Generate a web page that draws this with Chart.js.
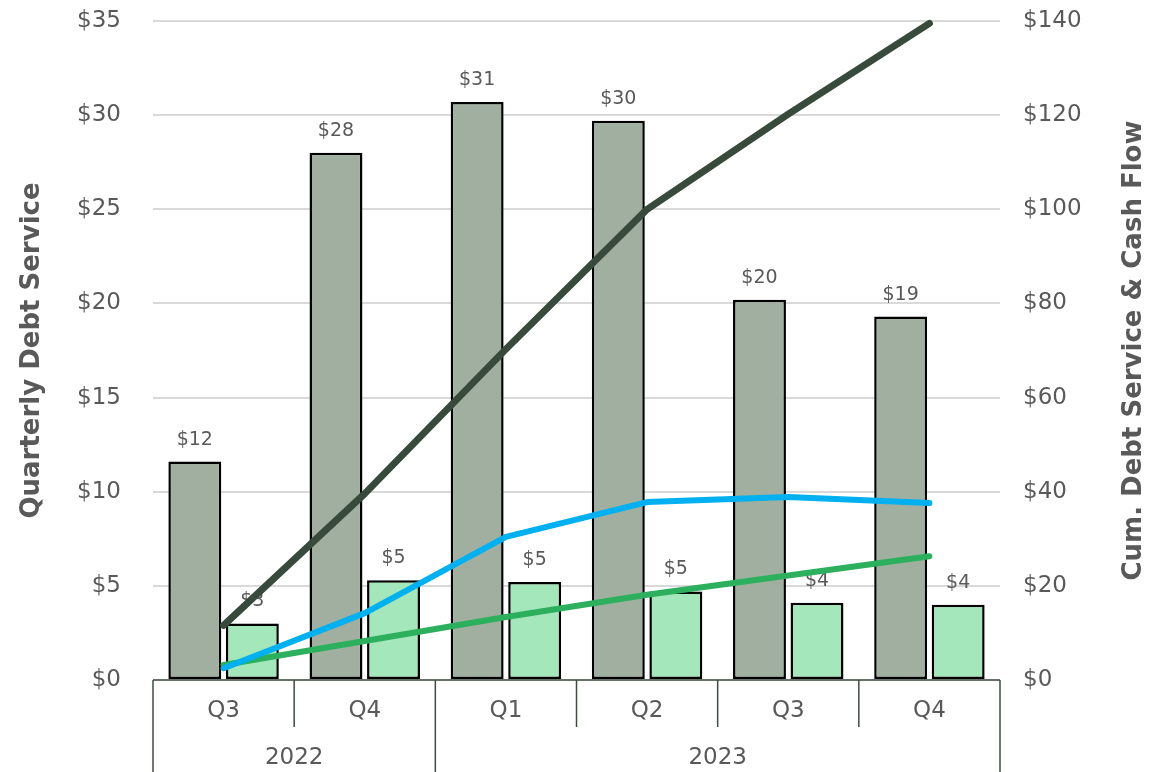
<!DOCTYPE html>
<html>
<head>
<meta charset="utf-8">
<script src="https://cdn.jsdelivr.net/npm/chart.js@4/dist/chart.umd.min.js"></script>
<style>
  html, body { margin: 0; padding: 0; background: #fff; }
  #wrap { width: 1176px; height: 772px; }
</style>
</head>
<body>
<div id="wrap"><canvas id="myChart"></canvas></div>
<script>
// values ($)
const quarters = ['Q3', 'Q4', 'Q1', 'Q2', 'Q3', 'Q4'];
const years = ['2022', '2022', '2023', '2023', '2023', '2023'];
const quarterlyDebtService = [11.6, 28.0, 30.7, 29.7, 20.2, 19.3];
const quarterlyCashFlow = [3.0, 5.3, 5.2, 4.7, 4.1, 4.0];
const cumDebtService = [11.6, 39.6, 70.3, 100.0, 120.2, 139.5];
const cumCashFlow = [2.5, 14.2, 30.4, 37.8, 38.9, 37.6];
const cumCashFlowLow = [3.2, 8.3, 13.4, 18.1, 22.2, 26.3];
const leftTicks = { max: 35, step: 5 };
const rightTicks = { max: 140, step: 20 };

const textColor = '#595959';
const fontFamily = '"DejaVu Sans", Verdana, sans-serif';

// value labels above the bars, drawn before the lines go on top
const barLabels = {
    id: 'barLabels',
    afterDatasetDraw(chart, args) {
        const ds = chart.data.datasets[args.index];
        if (ds.type !== 'bar') return;
        const ctx = chart.ctx;
        ctx.save();
        ctx.font = '19px ' + fontFamily;
        ctx.fillStyle = textColor;
        ctx.textAlign = 'center';
        ctx.textBaseline = 'middle';
        args.meta.data.forEach((bar, i) => {
            ctx.fillText('$' + Math.round(ds.data[i]), bar.x, bar.y - 22);
        });
        ctx.restore();
    }
};

// two-level category axis (quarter / year) with box lines
const axisBox = {
    id: 'axisBox',
    afterDraw(chart) {
        const { ctx, chartArea } = chart;
        const x = chart.scales.x;
        const n = quarters.length;
        const bottom = chartArea.bottom;
        const edges = [];
        for (let i = 0; i <= n; i++) {
            if (i === 0) edges.push(chartArea.left);
            else if (i === n) edges.push(chartArea.right);
            else edges.push((x.getPixelForValue(i - 1) + x.getPixelForValue(i)) / 2);
        }
        ctx.save();
        ctx.strokeStyle = '#3E4C40';
        ctx.lineWidth = 1.5;
        ctx.beginPath();
        ctx.moveTo(chartArea.left, bottom);
        ctx.lineTo(chartArea.right, bottom);
        ctx.stroke();
        edges.forEach((ex, i) => {
            const yearEdge = i === 0 || i === n || years[i] !== years[i - 1];
            ctx.beginPath();
            ctx.moveTo(ex, bottom);
            ctx.lineTo(ex, yearEdge ? chart.height : bottom + 47);
            ctx.stroke();
        });
        ctx.fillStyle = textColor;
        ctx.font = '23px ' + fontFamily;
        ctx.textAlign = 'center';
        ctx.textBaseline = 'middle';
        quarters.forEach((q, i) => ctx.fillText(q, x.getPixelForValue(i), bottom + 31));
        let start = 0;
        for (let i = 1; i <= n; i++) {
            if (i === n || years[i] !== years[start]) {
                ctx.fillText(years[start], (edges[start] + edges[i]) / 2, bottom + 78);
                start = i;
            }
        }
        // right axis title, reading bottom to top
        const y1 = chart.scales.y1;
        ctx.translate(y1.right - 42, (chartArea.top + chartArea.bottom) / 2);
        ctx.rotate(-Math.PI / 2);
        ctx.font = 'bold 26px ' + fontFamily;
        ctx.fillText('Cum. Debt Service & Cash Flow', 0, 0);
        ctx.restore();
    }
};

const canvasContext = document.getElementById('myChart').getContext('2d');

const myChart = new Chart(canvasContext, {
    data: {
        labels: quarters,
        datasets: [
            {
                type: 'line',
                label: 'Cum. Debt Service',
                data: cumDebtService,
                yAxisID: 'y1',
                borderColor: '#384A3B',
                borderWidth: 7,
                borderCapStyle: 'round',
                borderJoinStyle: 'round',
                pointRadius: 0,
                tension: 0,
                clip: false,
                order: 1,
            },
            {
                type: 'line',
                label: 'Cum. Cash Flow',
                data: cumCashFlow,
                yAxisID: 'y1',
                borderColor: '#00B0F0',
                borderWidth: 6,
                borderCapStyle: 'round',
                borderJoinStyle: 'round',
                pointRadius: 0,
                tension: 0,
                clip: false,
                order: 0,
            },
            {
                type: 'line',
                label: 'Cum. Cash Flow (low)',
                data: cumCashFlowLow,
                yAxisID: 'y1',
                borderColor: '#2DB05D',
                borderWidth: 6,
                borderCapStyle: 'round',
                borderJoinStyle: 'round',
                pointRadius: 0,
                tension: 0,
                clip: false,
                order: 1,
            },
            {
                type: 'bar',
                label: 'Quarterly Debt Service',
                data: quarterlyDebtService,
                yAxisID: 'y',
                backgroundColor: '#A0AFA0',
                borderColor: '#000000',
                borderWidth: 2.5,
                borderSkipped: false,
                barPercentage: 0.92,
                categoryPercentage: 0.815,
                order: 2,
            },
            {
                type: 'bar',
                label: 'Quarterly Cash Flow',
                data: quarterlyCashFlow,
                yAxisID: 'y',
                backgroundColor: '#A3E7BA',
                borderColor: '#000000',
                borderWidth: 2.5,
                borderSkipped: false,
                barPercentage: 0.92,
                categoryPercentage: 0.815,
                order: 2,
            }
        ],
    },
    options: {
        responsive: true,
        maintainAspectRatio: false,
        animation: false,
        layout: { padding: { top: 21, left: 0, right: 0, bottom: 0 } },
        plugins: {
            legend: { display: false },
            tooltip: { enabled: false },
        },
        scales: {
            x: {
                offset: true,
                grid: { display: false },
                border: { display: false },
                ticks: { display: false },
                afterFit(scale) { scale.height = 92; scale.paddingLeft = 0; scale.paddingRight = 0; },
            },
            y: {
                position: 'left',
                min: 0,
                max: leftTicks.max,
                ticks: {
                    stepSize: leftTicks.step,
                    padding: 32,
                    color: textColor,
                    font: { family: fontFamily, size: 23 },
                    callback: (v) => '$' + v,
                },
                grid: { color: '#D9D9D9', lineWidth: 2, drawTicks: false },
                border: { display: false },
                title: {
                    display: true,
                    text: 'Quarterly Debt Service',
                    color: textColor,
                    font: { family: fontFamily, size: 26, weight: 'bold' },
                    padding: { top: 17, bottom: 0 },
                },
                afterFit(scale) { scale.width = 153; scale.paddingTop = 0; scale.paddingBottom = 0; },
            },
            y1: {
                position: 'right',
                min: 0,
                max: rightTicks.max,
                ticks: {
                    stepSize: rightTicks.step,
                    padding: 23,
                    color: textColor,
                    font: { family: fontFamily, size: 23 },
                    callback: (v) => '$' + v,
                },
                grid: { drawOnChartArea: false, drawTicks: false },
                border: { display: false },
                afterFit(scale) { scale.width = 176; scale.paddingTop = 0; scale.paddingBottom = 0; },
            },
        },
    },
    plugins: [barLabels, axisBox],
});
</script>
</body>
</html>
